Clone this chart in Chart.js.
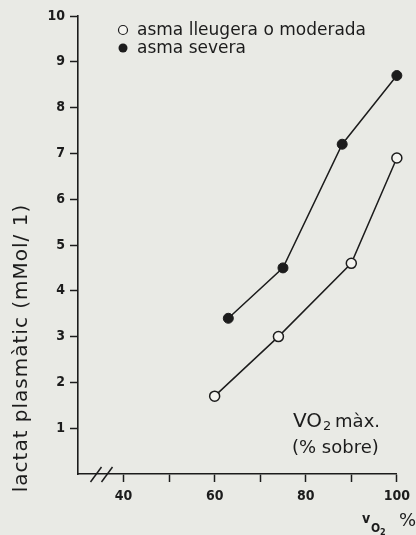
<!DOCTYPE html>
<html>
<head>
<meta charset="utf-8">
<script src="https://cdn.jsdelivr.net/npm/chart.js"></script>
<style>
  html, body { margin: 0; padding: 0; background: #e9eae5; }
  canvas { display: block; }
</style>
</head>
<body>
<canvas id="lactatChart" width="416" height="535"></canvas>
<script>
// Dades llegides del gràfic
const seriesNames = ['asma lleugera o moderada', 'asma severa'];
const moderadaX = [60, 74, 90, 100];
const moderadaY = [1.7, 3.0, 4.6, 6.9];
const severaX = [63, 75, 88, 100];
const severaY = [3.4, 4.5, 7.2, 8.7];
const xTickLabels = [40, 60, 80, 100];
const yTickLabels = [1, 2, 3, 4, 5, 6, 7, 8, 9, 10];

const ink = '#1c1c1c';
const paper = '#f4f4f0';

const toPoints = (xs, ys) => xs.map((x, i) => ({ x: x, y: ys[i] }));

// Text i marques extres (llegenda, títols, tall de l'eix)
const extras = {
  id: 'extras',
  afterDraw(chart) {
    const c = chart.ctx;
    const area = chart.chartArea;
    c.save();
    c.fillStyle = ink;
    c.strokeStyle = ink;

    // llegenda
    chart.data.datasets.forEach((ds, i) => {
      const y = 30 + i * 18;
      c.beginPath();
      c.arc(123, y, 4.5, 0, Math.PI * 2);
      c.lineWidth = 1.2;
      if (i === 0) { c.fillStyle = paper; c.fill(); c.stroke(); }
      else { c.fillStyle = ink; c.fill(); }
      c.fillStyle = ink;
      c.font = '17px "DejaVu Sans"';
      c.textBaseline = 'middle';
      c.textAlign = 'left';
      c.fillText(ds.label, 137, y + 1);
    });

    // títol eix Y
    c.save();
    c.translate(27, 348);
    c.rotate(-Math.PI / 2);
    c.font = '20px "DejaVu Sans"';
    c.letterSpacing = '1px';
    c.textAlign = 'center';
    c.textBaseline = 'alphabetic';
    c.fillText('lactat plasmàtic (mMol/ 1)', 0, 0);
    c.restore();

    // VO2 màx. (% sobre)
    c.textAlign = 'left';
    c.textBaseline = 'alphabetic';
    c.font = '20px "DejaVu Sans"';
    c.fillText('VO', 293, 427);
    let w = c.measureText('VO').width;
    c.font = '13px "DejaVu Sans"';
    c.fillText('2', 293 + w + 1, 430);
    c.font = '18px "DejaVu Sans"';
    c.fillText('màx.', 293 + w + 13, 427);
    c.fillText('(% sobre)', 292, 453);

    // v O2 %
    c.font = 'bold 14px "DejaVu Sans Condensed"';
    c.fillText('v', 362, 523);
    c.font = 'bold 12px "DejaVu Sans Condensed"';
    c.fillText('O', 371, 532);
    c.font = 'bold 9px "DejaVu Sans Condensed"';
    c.fillText('2', 380, 535);
    c.font = '18px "DejaVu Sans"';
    c.fillText('%', 399, 526);

    // tall de l'eix X
    c.lineWidth = 1.5;
    [area.left + 18, area.left + 29].forEach(x => {
      c.beginPath();
      c.moveTo(x - 5.5, area.bottom + 8);
      c.lineTo(x + 5.5, area.bottom - 7);
      c.stroke();
    });
    c.restore();
  }
};

const ctx = document.getElementById('lactatChart').getContext('2d');
const lactatChart = new Chart(ctx, {
  type: 'scatter',
  data: {
    datasets: [
      {
        label: seriesNames[0],
        data: toPoints(moderadaX, moderadaY),
        showLine: true,
        borderColor: ink,
        borderWidth: 1.5,
        pointRadius: 5,
        pointBorderWidth: 1.5,
        pointBackgroundColor: paper,
        pointBorderColor: ink,
        clip: false
      },
      {
        label: seriesNames[1],
        data: toPoints(severaX, severaY),
        showLine: true,
        borderColor: ink,
        borderWidth: 1.5,
        pointRadius: 5,
        pointBorderWidth: 1,
        pointBackgroundColor: ink,
        pointBorderColor: ink,
        clip: false
      }
    ]
  },
  options: {
    responsive: false,
    animation: false,
    devicePixelRatio: 1,
    layout: { padding: { left: 0, right: 18, top: 16, bottom: 0 } },
    plugins: {
      legend: { display: false },
      tooltip: { enabled: false }
    },
    scales: {
      x: {
        type: 'linear',
        min: 30,
        max: 100,
        afterFit: s => { s.height = 61; },
        border: { color: ink, width: 1.6 },
        grid: {
          drawOnChartArea: false,
          tickLength: 8,
          tickWidth: 1.5,
          tickColor: c => (c.tick && c.tick.value === 30 ? 'transparent' : ink)
        },
        ticks: {
          stepSize: 10,
          padding: 6,
          maxRotation: 0,
          color: ink,
          font: { family: '"DejaVu Sans Condensed"', size: 14, weight: 'bold' },
          callback: v => (xTickLabels.includes(v) ? v : '')
        }
      },
      y: {
        min: 0,
        max: 10,
        afterFit: s => { s.width = 78; },
        border: { color: ink, width: 1.6 },
        grid: {
          drawOnChartArea: false,
          tickLength: 8,
          tickWidth: 1.5,
          tickColor: c => (c.tick && c.tick.value === 0 ? 'transparent' : ink)
        },
        ticks: {
          stepSize: 1,
          padding: 5,
          color: ink,
          font: { family: '"DejaVu Sans Condensed"', size: 14, weight: 'bold' },
          callback: v => (yTickLabels.includes(v) ? v : '')
        }
      }
    }
  },
  plugins: [extras]
});
</script>
</body>
</html>
